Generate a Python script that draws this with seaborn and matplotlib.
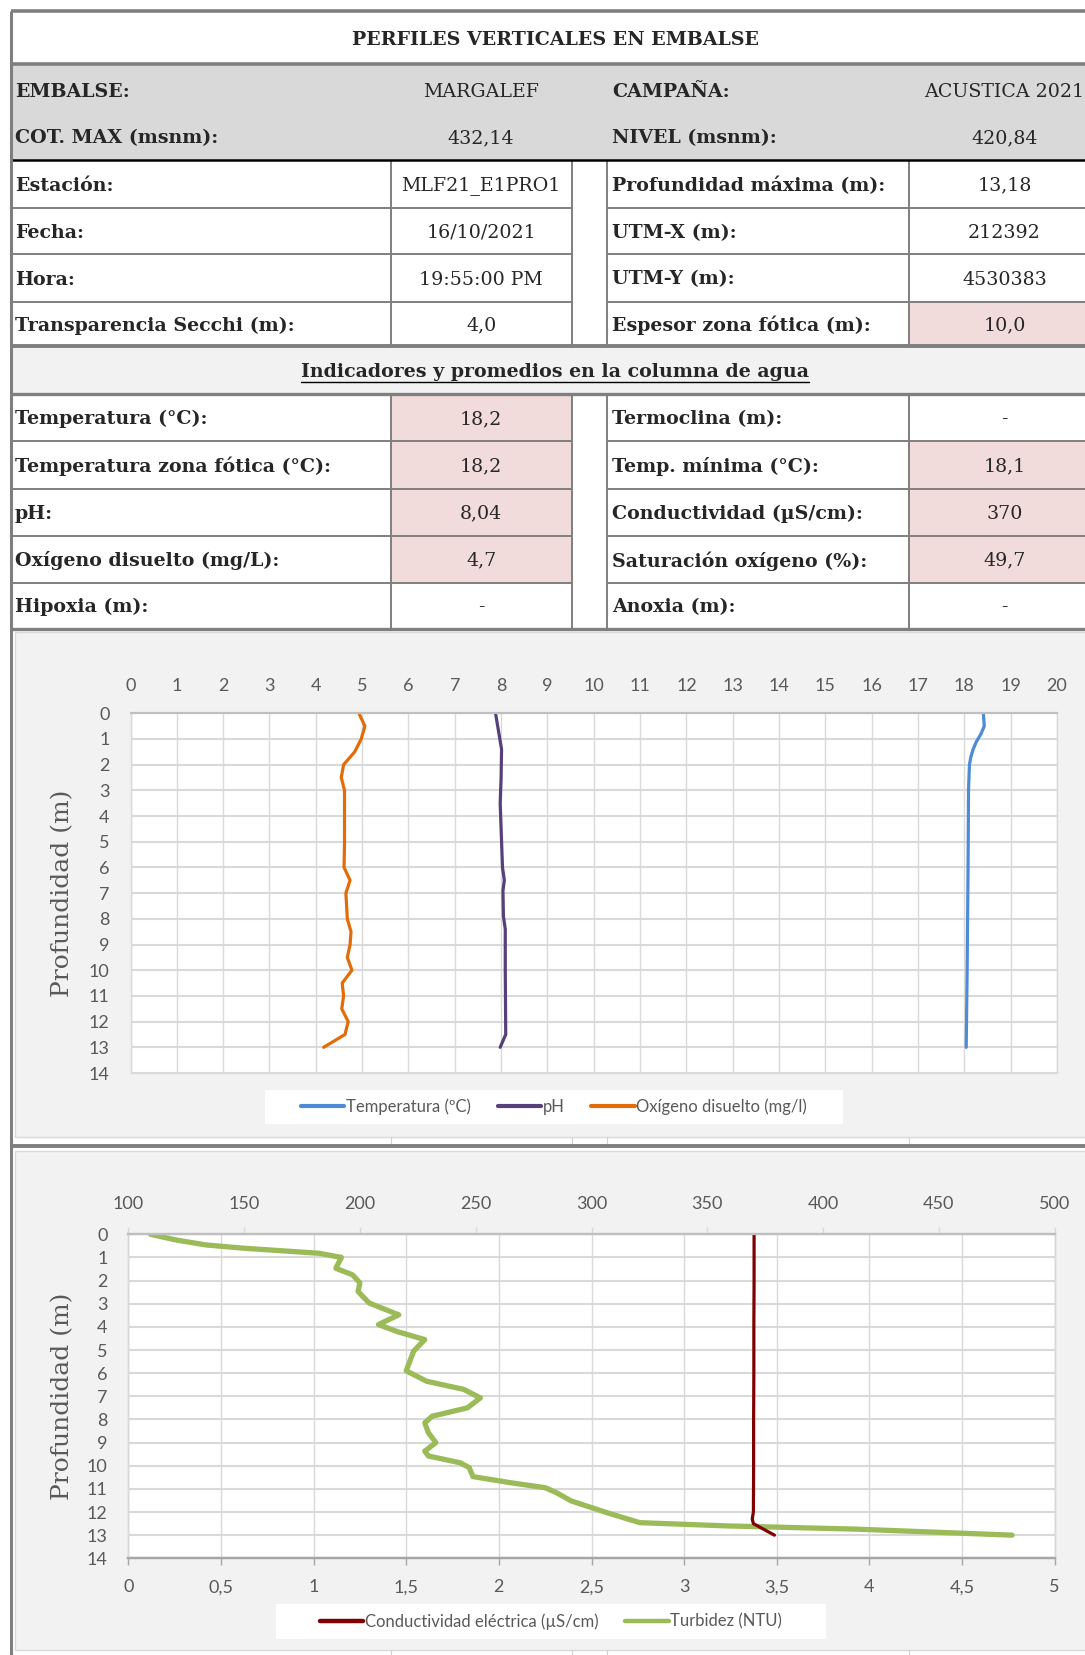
import numpy as np
import pandas as pd
import matplotlib
matplotlib.use("Agg")
import matplotlib.pyplot as plt
from matplotlib.patches import Rectangle
import seaborn as sns

# ---------------- table contents ----------------
title_text = "PERFILES VERTICALES EN EMBALSE"
head_left_labels = ["EMBALSE:", "COT. MAX (msnm):"]
head_left_values = ["MARGALEF", "432,14"]
head_right_labels = ["CAMPAÑA:", "NIVEL (msnm):"]
head_right_values = ["ACUSTICA 2021", "420,84"]

st_left_labels = ["Estación:", "Fecha:", "Hora:", "Transparencia Secchi (m):"]
st_left_values = ["MLF21_E1PRO1", "16/10/2021", "19:55:00 PM", "4,0"]
st_right_labels = ["Profundidad máxima (m):", "UTM-X (m):", "UTM-Y (m):",
                   "Espesor zona fótica (m):"]
st_right_values = ["13,18", "212392", "4530383", "10,0"]
st_right_pink = [False, False, False, True]

ind_title = "Indicadores y promedios en la columna de agua"
ind_left_labels = ["Temperatura (°C):", "Temperatura zona fótica (°C):", "pH:",
                   "Oxígeno disuelto (mg/L):", "Hipoxia (m):"]
ind_left_values = ["18,2", "18,2", "8,04", "4,7", "-"]
ind_left_pink = [True, True, True, True, False]
ind_right_labels = ["Termoclina (m):", "Temp. mínima (°C):", "Conductividad (µS/cm):",
                    "Saturación oxígeno (%):", "Anoxia (m):"]
ind_right_values = ["-", "18,1", "370", "49,7", "-"]
ind_right_pink = [False, True, True, True, False]

# ---------------- profile data ----------------
temp_depth = [0, 0.5, 0.8, 1.1, 1.4, 1.7, 2.0, 3.0, 6.0, 10.0, 13.0]
temp_vals = [18.41, 18.43, 18.36, 18.26, 18.19, 18.14, 18.11, 18.09, 18.08, 18.06, 18.04]

ph_depth = [0, 1.4, 2.5, 3.5, 5.0, 6.0, 6.5, 6.9, 7.9, 8.4, 10.0, 12.5, 13.0]
ph_vals = [7.88, 8.01, 8.00, 7.98, 8.01, 8.03, 8.07, 8.04, 8.05, 8.09, 8.09, 8.10, 7.98]

ox_depth = [0, 0.5, 1.0, 1.5, 2.0, 2.5, 3.0, 4.0, 5.0, 6.0, 6.5, 7.0, 8.0, 8.5,
            9.0, 9.5, 10.0, 10.5, 11.0, 11.5, 12.0, 12.5, 13.0]
ox_vals = [4.93, 5.06, 4.98, 4.84, 4.60, 4.55, 4.62, 4.62, 4.62, 4.61, 4.74, 4.65,
           4.68, 4.76, 4.74, 4.68, 4.78, 4.57, 4.60, 4.56, 4.70, 4.63, 4.17]

turb_depth = [0, 0.25, 0.46, 0.6, 0.82, 1.0, 1.47, 1.75, 2.1, 2.47, 2.97, 3.48, 3.9,
              4.2, 4.55, 5.05, 5.9, 6.35, 6.7, 7.07, 7.5, 7.86, 8.15, 8.58, 9.0,
              9.37, 9.58, 9.87, 10.08, 10.47, 10.73, 10.95, 11.16, 11.52, 12.02,
              12.46, 12.6, 12.74, 13.0]
turb_vals = [0.12, 0.26, 0.42, 0.62, 1.03, 1.15, 1.12, 1.21, 1.25, 1.24, 1.30, 1.46,
             1.35, 1.45, 1.60, 1.54, 1.50, 1.61, 1.81, 1.90, 1.83, 1.64, 1.60, 1.62,
             1.66, 1.60, 1.62, 1.79, 1.84, 1.86, 2.06, 2.25, 2.31, 2.39, 2.58, 2.76,
             3.23, 3.93, 4.77]

cond_depth = [0, 2, 4, 6, 8, 10, 12.0, 12.3, 12.5, 12.7, 13.0]
cond_vals = [370.2, 370.2, 370.1, 370.1, 370.0, 370.0, 369.9, 369.4, 369.9, 373.5, 379.0]

profile_ticks_top = list(range(0, 21))
cond_ticks = list(range(100, 501, 50))
turb_ticks = [0, 0.5, 1, 1.5, 2, 2.5, 3, 3.5, 4, 4.5, 5]
turb_tick_labels = ["0", "0,5", "1", "1,5", "2", "2,5", "3", "3,5", "4", "4,5", "5"]
depth_ticks = list(range(0, 15))

# ---------------- style ----------------
sns.set_style("white")
plt.rcParams["font.family"] = ["Lato", "DejaVu Sans"]
SERIF = ["DejaVu Serif"]
GRAY = "#7f7f7f"
PINK = "#f2dcdb"
TXT = "#595959"
GRID = "#d9d9d9"
C_TEMP, C_PH, C_OX = "#4e8ad6", "#55407a", "#e36c0a"
C_COND, C_TURB = "#7f0000", "#9bbb59"

W, H = 1085, 1655
fig = plt.figure(figsize=(W / 100, H / 100), dpi=100)
bg = fig.add_axes([0, 0, 1, 1])
bg.set_xlim(0, W)
bg.set_ylim(H, 0)
bg.axis("off")


def px_axes(x0, y0, x1, y1):
    return fig.add_axes([x0 / W, 1 - y1 / H, (x1 - x0) / W, (y1 - y0) / H])


def hline(y, x0, x1, color=GRAY, lw=1.4):
    bg.plot([x0, x1], [y, y], color=color, lw=lw, solid_capstyle="butt")


def vline(x, y0, y1, color=GRAY, lw=1.4):
    bg.plot([x, x], [y0, y1], color=color, lw=lw, solid_capstyle="butt")


L, TR = 10.5, 1100
C1, C2, C3, C4 = 390.5, 572, 607, 909
LAB_L, LAB_R = 15, 612
VAL_L, VAL_R = (C1 + C2) / 2, (C4 + TR) / 2
FS = 13.7

# title row
bg.text((L + TR) / 2, 40, title_text, ha="center", va="center",
        family=SERIF, weight="bold", size=FS)

# grey header block
bg.add_patch(Rectangle((L, 64), TR - L, 96, fc="#d9d9d9", ec="none"))
for i, yc in enumerate([92, 138]):
    bg.text(LAB_L, yc, head_left_labels[i], ha="left", va="center",
            family=SERIF, weight="bold", size=FS)
    bg.text(VAL_L, yc, head_left_values[i], ha="center", va="center",
            family=SERIF, size=FS)
    bg.text(LAB_R, yc, head_right_labels[i], ha="left", va="center",
            family=SERIF, weight="bold", size=FS)
    bg.text(VAL_R, yc, head_right_values[i], ha="center", va="center",
            family=SERIF, size=FS)


def block(edges, llab, lval, rlab, rval, lpink, rpink):
    for i in range(len(llab)):
        y0, y1 = edges[i], edges[i + 1]
        yc = (y0 + y1) / 2 + 1.5
        if lpink[i]:
            bg.add_patch(Rectangle((C1, y0), C2 - C1, y1 - y0, fc=PINK, ec="none"))
        if rpink[i]:
            bg.add_patch(Rectangle((C4, y0), TR - C4, y1 - y0, fc=PINK, ec="none"))
        bg.text(LAB_L, yc, llab[i], ha="left", va="center",
                family=SERIF, weight="bold", size=FS)
        bg.text(VAL_L, yc, lval[i], ha="center", va="center", family=SERIF, size=FS)
        bg.text(LAB_R, yc, rlab[i], ha="left", va="center",
                family=SERIF, weight="bold", size=FS)
        bg.text(VAL_R, yc, rval[i], ha="center", va="center", family=SERIF, size=FS)
    for y in edges[1:-1]:
        hline(y, L, C2)
        hline(y, C3, TR)
    for x in (C1, C2, C3, C4):
        vline(x, edges[0], edges[-1])


st_edges = [160.4, 207.9, 254.3, 301.8, 346.2]
block(st_edges, st_left_labels, st_left_values, st_right_labels, st_right_values,
      [False] * 4, st_right_pink)

ind_edges = [393.7, 441.2, 488.6, 536.1, 582.6, 629]
block(ind_edges, ind_left_labels, ind_left_values, ind_right_labels,
      ind_right_values, ind_left_pink, ind_right_pink)

# indicator heading band
bg.add_patch(Rectangle((L, 346.2), TR - L, 393.7 - 346.2, fc="#f2f2f2", ec="none"))
ind_t = bg.text((L + TR) / 2, 372, ind_title, ha="center", va="center",
                family=SERIF, weight="bold", size=FS)

# chart panels
bg.add_patch(Rectangle((15, 632), W, 1137 - 632, fc="#f2f2f2", ec=GRID, lw=1))
bg.add_patch(Rectangle((15, 1151), W, 1650 - 1151, fc="#f2f2f2", ec=GRID, lw=1))
for x in (C1, C2, C3, C4):
    vline(x, 1137, 1144, color="#d0d0d0", lw=0.8)
    vline(x, 1650, 1655, color="#d0d0d0", lw=0.8)

# heavy rules of the sheet
hline(11, L, TR, lw=2.6)
hline(64, L, TR, lw=2.6)
hline(160.4, L, TR, color="#000000", lw=1.8)
hline(346.2, L, TR, lw=2.8)
hline(393.7, L, TR, lw=2.4)
hline(629, L, TR, lw=2.4)
hline(1146, L, TR, lw=2.8)
vline(L, 11, H, lw=2.2)

# ---------------- chart 1: temperature, pH, oxygen ----------------
ax1 = px_axes(130.5, 713.3, 1057, 1073)
ax1.set_facecolor("white")
prof = [
    (pd.DataFrame({"valor": temp_vals, "prof": temp_depth}), C_TEMP, "Temperatura (ºC)"),
    (pd.DataFrame({"valor": ph_vals, "prof": ph_depth}), C_PH, "pH"),
    (pd.DataFrame({"valor": ox_vals, "prof": ox_depth}), C_OX, "Oxígeno disuelto (mg/l)"),
]
for df, col, lab in prof:
    sns.lineplot(data=df, x="valor", y="prof", orient="y", sort=False,
                 estimator=None, color=col, lw=2.3, label=lab, legend=False,
                 ax=ax1, solid_capstyle="round", solid_joinstyle="round")
ax1.set_xlim(0, 20)
ax1.set_ylim(14, 0)
ax1.xaxis.tick_top()
ax1.set_xticks(profile_ticks_top)
ax1.set_yticks(depth_ticks)
ax1.set_xlabel("")
ax1.grid(axis="x", color=GRID, lw=1.0)
ax1.grid(axis="y", color=GRID, lw=1.5)
ax1.tick_params(axis="x", top=True, bottom=False, length=0, pad=14,
                labelsize=13, labelcolor=TXT)
ax1.tick_params(axis="y", length=0, pad=15, labelsize=13, labelcolor=TXT)
for s in ("left", "right", "bottom"):
    ax1.spines[s].set_color(GRID)
    ax1.spines[s].set_linewidth(1.0)
ax1.spines["top"].set_color("#bfbfbf")
ax1.spines["top"].set_linewidth(1.6)
ax1.set_ylabel("Profundidad (m)", family=SERIF, size=18, color=TXT, va="center")
ax1.yaxis.set_label_coords(-0.073, 0.5)

bg.add_patch(Rectangle((265, 1090), 843 - 265, 34, fc="white", ec="none"))
h1, l1 = ax1.get_legend_handles_labels()
leg1 = fig.legend(h1, l1, loc="center", bbox_to_anchor=(554 / W, 1 - 1107 / H),
                  ncol=3, frameon=False, fontsize=12, labelcolor=TXT,
                  handlelength=2.6, handletextpad=0.1, columnspacing=1.6)
for ln in leg1.get_lines():
    ln.set_linewidth(3.0)
    ln.set_solid_capstyle("round")

# ---------------- chart 2: conductivity, turbidity ----------------
ax2 = px_axes(128.3, 1234.3, 1054.7, 1558.3)
ax2.set_facecolor("white")
ax2t = ax2.twiny()
sns.lineplot(data=pd.DataFrame({"valor": turb_vals, "prof": turb_depth}),
             x="valor", y="prof", orient="y", sort=False, estimator=None,
             color=C_TURB, lw=3.8, label="Turbidez (NTU)", legend=False, ax=ax2,
             solid_capstyle="round", solid_joinstyle="round")
sns.lineplot(data=pd.DataFrame({"valor": cond_vals, "prof": cond_depth}),
             x="valor", y="prof", orient="y", sort=False, estimator=None,
             color=C_COND, lw=2.3, label="Conductividad eléctrica (µS/cm)",
             legend=False, ax=ax2t, solid_capstyle="round", solid_joinstyle="round")
ax2.set_xlim(0, 5)
ax2t.set_xlim(100, 500)
ax2.set_ylim(14, 0)
ax2.set_xticks(turb_ticks)
ax2.set_xticklabels(turb_tick_labels)
ax2t.set_xticks(cond_ticks)
ax2.set_yticks(depth_ticks)
ax2.set_xlabel("")
ax2t.set_xlabel("")
ax2t.set_ylabel("")
ax2.grid(axis="x", color=GRID, lw=1.0)
ax2.grid(axis="y", color=GRID, lw=1.5)
ax2.tick_params(axis="x", bottom=True, direction="out", length=5, width=1,
                color="#a6a6a6", pad=10, labelsize=13, labelcolor=TXT)
ax2t.tick_params(axis="x", top=True, direction="out", length=5, width=1,
                 color=GRID, pad=11, labelsize=13, labelcolor=TXT)
ax2.tick_params(axis="y", length=0, pad=15, labelsize=13, labelcolor=TXT)
ax2t.tick_params(axis="y", left=False, right=False, labelleft=False, labelright=False)
for a in (ax2, ax2t):
    for s in ("left", "right"):
        a.spines[s].set_color(GRID)
        a.spines[s].set_linewidth(1.0)
    a.spines["top"].set_color("#bfbfbf")
    a.spines["top"].set_linewidth(1.6)
    a.spines["bottom"].set_color("#a6a6a6")
    a.spines["bottom"].set_linewidth(1.6)
ax2.set_ylabel("Profundidad (m)", family=SERIF, size=18, color=TXT, va="center")
ax2.yaxis.set_label_coords(-0.0705, 0.5)

bg.add_patch(Rectangle((276, 1604), 826 - 276, 35, fc="white", ec="none"))
hc, lc = ax2t.get_legend_handles_labels()
ht, lt = ax2.get_legend_handles_labels()
leg2 = fig.legend(hc + ht, lc + lt, loc="center", bbox_to_anchor=(551 / W, 1 - 1621.5 / H),
                  ncol=2, frameon=False, fontsize=12, labelcolor=TXT,
                  handlelength=2.6, handletextpad=0.1, columnspacing=1.6)
for ln in leg2.get_lines():
    ln.set_linewidth(3.2)
    ln.set_solid_capstyle("round")

# underline for the indicator heading
fig.canvas.draw()
bb = ind_t.get_window_extent().transformed(bg.transData.inverted())
bg.plot([bb.x0, bb.x1], [bb.y0 + 1, bb.y0 + 1], color="black", lw=1.0)

fig.savefig("out.png", dpi=100)
